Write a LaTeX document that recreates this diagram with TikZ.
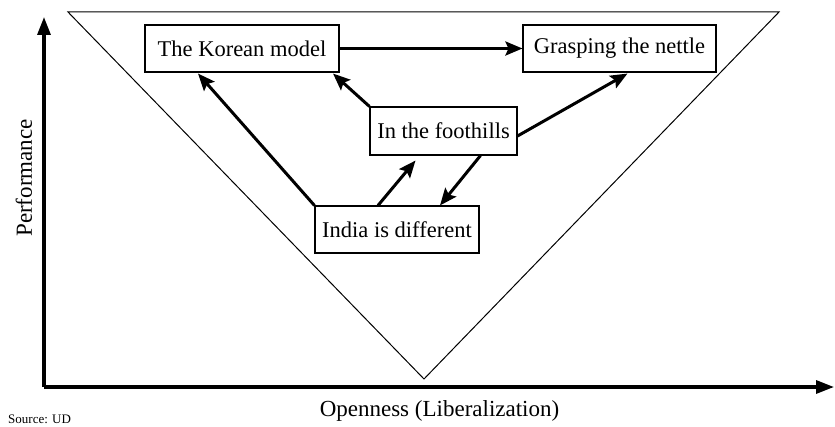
\documentclass[tikz,border=0pt]{standalone}
\usepackage{fontspec}
\setmainfont{Liberation Serif}
\usetikzlibrary{arrows.meta,calc}

\tikzset{
  stage/.style={draw=black, line width=1.1pt, fill=white, inner sep=0pt,
    minimum height=47pt, font=\fontsize{22.5}{27}\selectfont},
  move/.style={line width=3pt, -{Stealth[length=17pt,width=14pt,inset=3pt]}},
  axis/.style={line width=3.2pt, -{Triangle[length=18pt,width=13pt]}},
  wedge/.style={line width=1pt, line join=miter},
  axislabel/.style={font=\fontsize{23}{28}\selectfont, inner sep=0pt},
}

\begin{document}
\begin{tikzpicture}[x=1pt,y=-1pt]
  \useasboundingbox (0,0) rectangle (835,427);

  % axes
  \coordinate (origin) at (44,387);
  \coordinate (ytip) at (44,17);
  \coordinate (xtip) at (834,387);
  \draw[axis] (origin) -- (ytip);
  \draw[axis] (origin) -- (xtip);

  % opening wedge
  \coordinate (wl) at (68,12);
  \coordinate (wr) at (779,12);
  \coordinate (wb) at (424,379);
  \draw[wedge] (wl) -- (wr) -- (wb) -- cycle;

  % stages
  \node[stage, minimum width=194pt] (korean) at (242,48.5) {The Korean model};
  \node[stage, minimum width=193pt] (nettle) at (619.5,48.5) {Grasping the nettle};
  \node[stage, minimum width=147pt, minimum height=48pt] (foothills) at (443.5,131) {In the foothills};
  \node[stage, minimum width=164pt] (india) at (397,229.5) {India is different};

  % transitions
  \draw[move] (korean.east) -- (nettle.west);
  \draw[move] (india.north west) -- ($(korean.south)+(-44,1)$);
  \draw[move] (foothills.north west) -- ($(korean.south)+(91,1)$);
  \draw[move] ($(foothills.east)+(0,5)$) -- ($(nettle.south)+(8,1)$);
  \draw[move] ($(india.north)+(-19,0)$) -- ($(foothills.south)+(-28,5)$);
  \draw[move] ($(foothills.south)+(37,0)$) -- ($(india.north)+(43,0)$);

  % labels
  \node[axislabel, rotate=90] (perf) at (24,178) {Performance};
  \node[axislabel] (open) at (439.5,411) {Openness (Liberalization)};
  \node[anchor=base west, inner sep=0pt, font=\fontsize{13}{16}\selectfont] (src) at (8,423) {Source: UD};
\end{tikzpicture}
\end{document}
